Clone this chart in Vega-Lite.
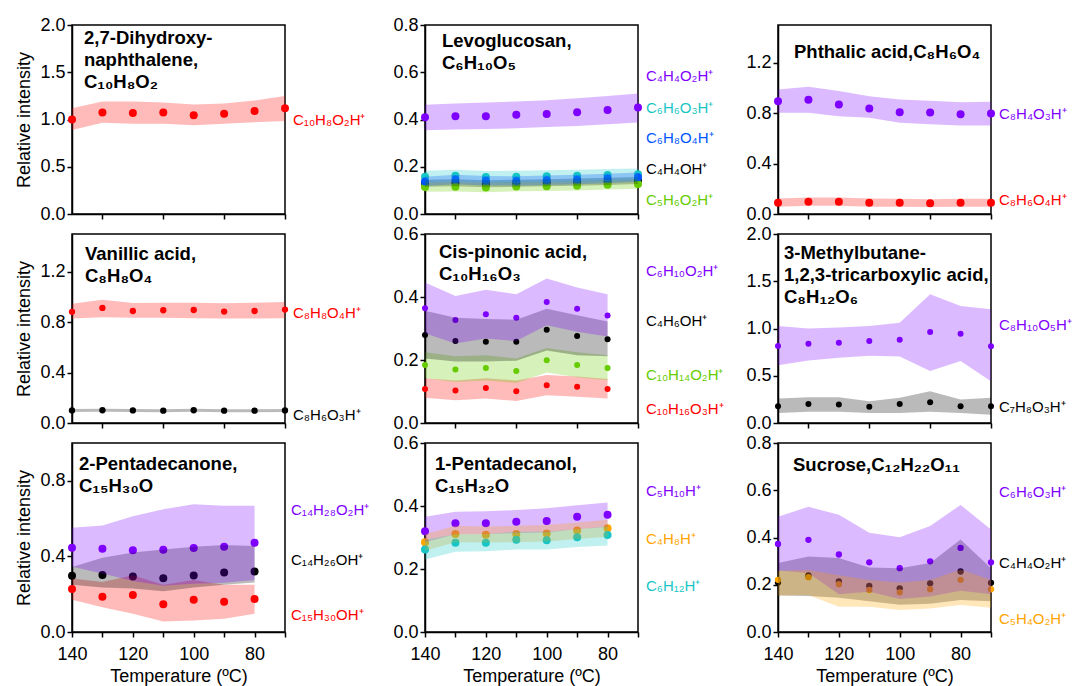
{
"$schema": "https://vega.github.io/schema/vega-lite/v6.json",
"background": "white",
"padding": {"left": 15, "top": 15, "right": 2, "bottom": 0},
"datasets": {
"series": [
{"p":"P1","ion":"C₁₀H₈O₂H⁺","t":140,"v":1.0,"lo":0.89,"hi":1.12},
{"p":"P1","ion":"C₁₀H₈O₂H⁺","t":130,"v":1.075,"lo":0.965,"hi":1.19},
{"p":"P1","ion":"C₁₀H₈O₂H⁺","t":120,"v":1.07,"lo":0.955,"hi":1.19},
{"p":"P1","ion":"C₁₀H₈O₂H⁺","t":110,"v":1.075,"lo":0.955,"hi":1.18},
{"p":"P1","ion":"C₁₀H₈O₂H⁺","t":100,"v":1.045,"lo":0.94,"hi":1.16},
{"p":"P1","ion":"C₁₀H₈O₂H⁺","t":90,"v":1.06,"lo":0.955,"hi":1.17},
{"p":"P1","ion":"C₁₀H₈O₂H⁺","t":80,"v":1.09,"lo":0.97,"hi":1.2},
{"p":"P1","ion":"C₁₀H₈O₂H⁺","t":70,"v":1.12,"lo":0.985,"hi":1.25},

{"p":"P2","ion":"C₄H₄OH⁺","t":140,"v":0.13,"lo":0.115,"hi":0.145},
{"p":"P2","ion":"C₄H₄OH⁺","t":130,"v":0.132,"lo":0.117,"hi":0.147},
{"p":"P2","ion":"C₄H₄OH⁺","t":120,"v":0.128,"lo":0.113,"hi":0.143},
{"p":"P2","ion":"C₄H₄OH⁺","t":110,"v":0.13,"lo":0.115,"hi":0.145},
{"p":"P2","ion":"C₄H₄OH⁺","t":100,"v":0.132,"lo":0.117,"hi":0.147},
{"p":"P2","ion":"C₄H₄OH⁺","t":90,"v":0.135,"lo":0.12,"hi":0.15},
{"p":"P2","ion":"C₄H₄OH⁺","t":80,"v":0.138,"lo":0.123,"hi":0.153},
{"p":"P2","ion":"C₄H₄OH⁺","t":70,"v":0.142,"lo":0.127,"hi":0.157},
{"p":"P2","ion":"C₅H₆O₂H⁺","t":140,"v":0.114,"lo":0.094,"hi":0.134},
{"p":"P2","ion":"C₅H₆O₂H⁺","t":130,"v":0.115,"lo":0.095,"hi":0.135},
{"p":"P2","ion":"C₅H₆O₂H⁺","t":120,"v":0.112,"lo":0.092,"hi":0.132},
{"p":"P2","ion":"C₅H₆O₂H⁺","t":110,"v":0.116,"lo":0.096,"hi":0.136},
{"p":"P2","ion":"C₅H₆O₂H⁺","t":100,"v":0.117,"lo":0.097,"hi":0.137},
{"p":"P2","ion":"C₅H₆O₂H⁺","t":90,"v":0.12,"lo":0.1,"hi":0.14},
{"p":"P2","ion":"C₅H₆O₂H⁺","t":80,"v":0.124,"lo":0.104,"hi":0.144},
{"p":"P2","ion":"C₅H₆O₂H⁺","t":70,"v":0.127,"lo":0.107,"hi":0.147},
{"p":"P2","ion":"C₆H₆O₃H⁺","t":140,"v":0.158,"lo":0.133,"hi":0.183},
{"p":"P2","ion":"C₆H₆O₃H⁺","t":130,"v":0.162,"lo":0.137,"hi":0.187},
{"p":"P2","ion":"C₆H₆O₃H⁺","t":120,"v":0.157,"lo":0.132,"hi":0.182},
{"p":"P2","ion":"C₆H₆O₃H⁺","t":110,"v":0.158,"lo":0.133,"hi":0.183},
{"p":"P2","ion":"C₆H₆O₃H⁺","t":100,"v":0.16,"lo":0.135,"hi":0.185},
{"p":"P2","ion":"C₆H₆O₃H⁺","t":90,"v":0.162,"lo":0.137,"hi":0.187},
{"p":"P2","ion":"C₆H₆O₃H⁺","t":80,"v":0.165,"lo":0.14,"hi":0.19},
{"p":"P2","ion":"C₆H₆O₃H⁺","t":70,"v":0.168,"lo":0.143,"hi":0.193},
{"p":"P2","ion":"C₆H₈O₄H⁺","t":140,"v":0.138,"lo":0.118,"hi":0.158},
{"p":"P2","ion":"C₆H₈O₄H⁺","t":130,"v":0.146,"lo":0.126,"hi":0.166},
{"p":"P2","ion":"C₆H₈O₄H⁺","t":120,"v":0.141,"lo":0.121,"hi":0.161},
{"p":"P2","ion":"C₆H₈O₄H⁺","t":110,"v":0.14,"lo":0.12,"hi":0.16},
{"p":"P2","ion":"C₆H₈O₄H⁺","t":100,"v":0.143,"lo":0.123,"hi":0.163},
{"p":"P2","ion":"C₆H₈O₄H⁺","t":90,"v":0.146,"lo":0.126,"hi":0.166},
{"p":"P2","ion":"C₆H₈O₄H⁺","t":80,"v":0.15,"lo":0.13,"hi":0.17},
{"p":"P2","ion":"C₆H₈O₄H⁺","t":70,"v":0.156,"lo":0.136,"hi":0.176},
{"p":"P2","ion":"C₄H₄O₂H⁺","t":140,"v":0.409,"lo":0.355,"hi":0.462},
{"p":"P2","ion":"C₄H₄O₂H⁺","t":130,"v":0.414,"lo":0.358,"hi":0.468},
{"p":"P2","ion":"C₄H₄O₂H⁺","t":120,"v":0.414,"lo":0.36,"hi":0.472},
{"p":"P2","ion":"C₄H₄O₂H⁺","t":110,"v":0.42,"lo":0.363,"hi":0.476},
{"p":"P2","ion":"C₄H₄O₂H⁺","t":100,"v":0.423,"lo":0.368,"hi":0.482},
{"p":"P2","ion":"C₄H₄O₂H⁺","t":90,"v":0.431,"lo":0.373,"hi":0.49},
{"p":"P2","ion":"C₄H₄O₂H⁺","t":80,"v":0.44,"lo":0.38,"hi":0.5},
{"p":"P2","ion":"C₄H₄O₂H⁺","t":70,"v":0.451,"lo":0.387,"hi":0.51},

{"p":"P3","ion":"C₈H₆O₄H⁺","t":140,"v":0.09,"lo":0.058,"hi":0.124},
{"p":"P3","ion":"C₈H₆O₄H⁺","t":130,"v":0.097,"lo":0.065,"hi":0.13},
{"p":"P3","ion":"C₈H₆O₄H⁺","t":120,"v":0.097,"lo":0.065,"hi":0.13},
{"p":"P3","ion":"C₈H₆O₄H⁺","t":110,"v":0.09,"lo":0.058,"hi":0.124},
{"p":"P3","ion":"C₈H₆O₄H⁺","t":100,"v":0.09,"lo":0.058,"hi":0.122},
{"p":"P3","ion":"C₈H₆O₄H⁺","t":90,"v":0.085,"lo":0.055,"hi":0.118},
{"p":"P3","ion":"C₈H₆O₄H⁺","t":80,"v":0.09,"lo":0.058,"hi":0.122},
{"p":"P3","ion":"C₈H₆O₄H⁺","t":70,"v":0.09,"lo":0.058,"hi":0.122},
{"p":"P3","ion":"C₈H₄O₃H⁺","t":140,"v":0.895,"lo":0.803,"hi":0.988},
{"p":"P3","ion":"C₈H₄O₃H⁺","t":130,"v":0.906,"lo":0.803,"hi":1.009},
{"p":"P3","ion":"C₈H₄O₃H⁺","t":120,"v":0.869,"lo":0.776,"hi":0.977},
{"p":"P3","ion":"C₈H₄O₃H⁺","t":110,"v":0.837,"lo":0.763,"hi":0.935},
{"p":"P3","ion":"C₈H₄O₃H⁺","t":100,"v":0.808,"lo":0.724,"hi":0.908},
{"p":"P3","ion":"C₈H₄O₃H⁺","t":90,"v":0.805,"lo":0.713,"hi":0.898},
{"p":"P3","ion":"C₈H₄O₃H⁺","t":80,"v":0.792,"lo":0.703,"hi":0.887},
{"p":"P3","ion":"C₈H₄O₃H⁺","t":70,"v":0.798,"lo":0.703,"hi":0.89},

{"p":"P4","ion":"C₈H₆O₃H⁺","t":140,"v":0.1,"lo":0.088,"hi":0.112},
{"p":"P4","ion":"C₈H₆O₃H⁺","t":130,"v":0.101,"lo":0.089,"hi":0.113},
{"p":"P4","ion":"C₈H₆O₃H⁺","t":120,"v":0.1,"lo":0.088,"hi":0.112},
{"p":"P4","ion":"C₈H₆O₃H⁺","t":110,"v":0.098,"lo":0.086,"hi":0.11},
{"p":"P4","ion":"C₈H₆O₃H⁺","t":100,"v":0.101,"lo":0.089,"hi":0.113},
{"p":"P4","ion":"C₈H₆O₃H⁺","t":90,"v":0.098,"lo":0.086,"hi":0.11},
{"p":"P4","ion":"C₈H₆O₃H⁺","t":80,"v":0.098,"lo":0.086,"hi":0.11},
{"p":"P4","ion":"C₈H₆O₃H⁺","t":70,"v":0.1,"lo":0.088,"hi":0.112},
{"p":"P4","ion":"C₈H₈O₄H⁺","t":140,"v":0.882,"lo":0.829,"hi":0.947},
{"p":"P4","ion":"C₈H₈O₄H⁺","t":130,"v":0.913,"lo":0.84,"hi":0.979},
{"p":"P4","ion":"C₈H₈O₄H⁺","t":120,"v":0.889,"lo":0.835,"hi":0.953},
{"p":"P4","ion":"C₈H₈O₄H⁺","t":110,"v":0.895,"lo":0.835,"hi":0.955},
{"p":"P4","ion":"C₈H₈O₄H⁺","t":100,"v":0.897,"lo":0.832,"hi":0.955},
{"p":"P4","ion":"C₈H₈O₄H⁺","t":90,"v":0.884,"lo":0.83,"hi":0.95},
{"p":"P4","ion":"C₈H₈O₄H⁺","t":80,"v":0.889,"lo":0.83,"hi":0.955},
{"p":"P4","ion":"C₈H₈O₄H⁺","t":70,"v":0.9,"lo":0.832,"hi":0.96},

{"p":"P5","ion":"C₁₀H₁₆O₃H⁺","t":140,"v":0.108,"lo":0.08,"hi":0.142},
{"p":"P5","ion":"C₁₀H₁₆O₃H⁺","t":130,"v":0.103,"lo":0.072,"hi":0.135},
{"p":"P5","ion":"C₁₀H₁₆O₃H⁺","t":120,"v":0.111,"lo":0.078,"hi":0.142},
{"p":"P5","ion":"C₁₀H₁₆O₃H⁺","t":110,"v":0.101,"lo":0.07,"hi":0.135},
{"p":"P5","ion":"C₁₀H₁₆O₃H⁺","t":100,"v":0.12,"lo":0.088,"hi":0.152},
{"p":"P5","ion":"C₁₀H₁₆O₃H⁺","t":90,"v":0.115,"lo":0.083,"hi":0.148},
{"p":"P5","ion":"C₁₀H₁₆O₃H⁺","t":80,"v":0.108,"lo":0.078,"hi":0.14},
{"p":"P5","ion":"C₁₀H₁₄O₂H⁺","t":140,"v":0.184,"lo":0.143,"hi":0.225},
{"p":"P5","ion":"C₁₀H₁₄O₂H⁺","t":130,"v":0.17,"lo":0.13,"hi":0.212},
{"p":"P5","ion":"C₁₀H₁₄O₂H⁺","t":120,"v":0.175,"lo":0.135,"hi":0.215},
{"p":"P5","ion":"C₁₀H₁₄O₂H⁺","t":110,"v":0.165,"lo":0.127,"hi":0.205},
{"p":"P5","ion":"C₁₀H₁₄O₂H⁺","t":100,"v":0.199,"lo":0.16,"hi":0.238},
{"p":"P5","ion":"C₁₀H₁₄O₂H⁺","t":90,"v":0.184,"lo":0.145,"hi":0.225},
{"p":"P5","ion":"C₁₀H₁₄O₂H⁺","t":80,"v":0.175,"lo":0.136,"hi":0.215},
{"p":"P5","ion":"C₄H₆OH⁺","t":140,"v":0.279,"lo":0.205,"hi":0.356},
{"p":"P5","ion":"C₄H₆OH⁺","t":130,"v":0.26,"lo":0.195,"hi":0.334},
{"p":"P5","ion":"C₄H₆OH⁺","t":120,"v":0.258,"lo":0.195,"hi":0.33},
{"p":"P5","ion":"C₄H₆OH⁺","t":110,"v":0.258,"lo":0.198,"hi":0.328},
{"p":"P5","ion":"C₄H₆OH⁺","t":100,"v":0.296,"lo":0.23,"hi":0.363},
{"p":"P5","ion":"C₄H₆OH⁺","t":90,"v":0.276,"lo":0.215,"hi":0.342},
{"p":"P5","ion":"C₄H₆OH⁺","t":80,"v":0.266,"lo":0.212,"hi":0.322},
{"p":"P5","ion":"C₆H₁₀O₂H⁺","t":140,"v":0.364,"lo":0.285,"hi":0.446},
{"p":"P5","ion":"C₆H₁₀O₂H⁺","t":130,"v":0.327,"lo":0.252,"hi":0.403},
{"p":"P5","ion":"C₆H₁₀O₂H⁺","t":120,"v":0.345,"lo":0.268,"hi":0.423},
{"p":"P5","ion":"C₆H₁₀O₂H⁺","t":110,"v":0.334,"lo":0.26,"hi":0.409},
{"p":"P5","ion":"C₆H₁₀O₂H⁺","t":100,"v":0.384,"lo":0.31,"hi":0.459},
{"p":"P5","ion":"C₆H₁₀O₂H⁺","t":90,"v":0.363,"lo":0.29,"hi":0.43},
{"p":"P5","ion":"C₆H₁₀O₂H⁺","t":80,"v":0.341,"lo":0.275,"hi":0.409},

{"p":"P6","ion":"C₇H₈O₃H⁺","t":140,"v":0.177,"lo":0.106,"hi":0.259},
{"p":"P6","ion":"C₇H₈O₃H⁺","t":130,"v":0.202,"lo":0.12,"hi":0.273},
{"p":"P6","ion":"C₇H₈O₃H⁺","t":120,"v":0.195,"lo":0.12,"hi":0.273},
{"p":"P6","ion":"C₇H₈O₃H⁺","t":110,"v":0.173,"lo":0.106,"hi":0.23},
{"p":"P6","ion":"C₇H₈O₃H⁺","t":100,"v":0.202,"lo":0.106,"hi":0.266},
{"p":"P6","ion":"C₇H₈O₃H⁺","t":90,"v":0.22,"lo":0.12,"hi":0.336},
{"p":"P6","ion":"C₇H₈O₃H⁺","t":80,"v":0.177,"lo":0.106,"hi":0.248},
{"p":"P6","ion":"C₇H₈O₃H⁺","t":70,"v":0.177,"lo":0.088,"hi":0.266},
{"p":"P6","ion":"C₈H₁₀O₅H⁺","t":140,"v":0.814,"lo":0.612,"hi":1.027},
{"p":"P6","ion":"C₈H₁₀O₅H⁺","t":130,"v":0.839,"lo":0.662,"hi":1.0},
{"p":"P6","ion":"C₈H₁₀O₅H⁺","t":120,"v":0.849,"lo":0.69,"hi":1.01},
{"p":"P6","ion":"C₈H₁₀O₅H⁺","t":110,"v":0.867,"lo":0.712,"hi":1.027},
{"p":"P6","ion":"C₈H₁₀O₅H⁺","t":100,"v":0.881,"lo":0.705,"hi":1.062},
{"p":"P6","ion":"C₈H₁₀O₅H⁺","t":90,"v":0.963,"lo":0.549,"hi":1.363},
{"p":"P6","ion":"C₈H₁₀O₅H⁺","t":80,"v":0.945,"lo":0.655,"hi":1.239},
{"p":"P6","ion":"C₈H₁₀O₅H⁺","t":70,"v":0.811,"lo":0.443,"hi":1.204},

{"p":"P7","ion":"C₁₅H₃₀OH⁺","t":140,"v":0.227,"lo":0.17,"hi":0.283},
{"p":"P7","ion":"C₁₅H₃₀OH⁺","t":130,"v":0.187,"lo":0.131,"hi":0.265},
{"p":"P7","ion":"C₁₅H₃₀OH⁺","t":120,"v":0.196,"lo":0.096,"hi":0.3},
{"p":"P7","ion":"C₁₅H₃₀OH⁺","t":110,"v":0.147,"lo":0.056,"hi":0.25},
{"p":"P7","ion":"C₁₅H₃₀OH⁺","t":100,"v":0.17,"lo":0.061,"hi":0.275},
{"p":"P7","ion":"C₁₅H₃₀OH⁺","t":90,"v":0.16,"lo":0.07,"hi":0.25},
{"p":"P7","ion":"C₁₅H₃₀OH⁺","t":80,"v":0.175,"lo":0.096,"hi":0.25},
{"p":"P7","ion":"C₁₄H₂₆OH⁺","t":140,"v":0.297,"lo":0.25,"hi":0.344},
{"p":"P7","ion":"C₁₄H₂₆OH⁺","t":130,"v":0.302,"lo":0.235,"hi":0.393},
{"p":"P7","ion":"C₁₄H₂₆OH⁺","t":120,"v":0.294,"lo":0.23,"hi":0.42},
{"p":"P7","ion":"C₁₄H₂₆OH⁺","t":110,"v":0.285,"lo":0.215,"hi":0.437},
{"p":"P7","ion":"C₁₄H₂₆OH⁺","t":100,"v":0.299,"lo":0.235,"hi":0.451},
{"p":"P7","ion":"C₁₄H₂₆OH⁺","t":90,"v":0.315,"lo":0.25,"hi":0.46},
{"p":"P7","ion":"C₁₄H₂₆OH⁺","t":80,"v":0.32,"lo":0.262,"hi":0.455},
{"p":"P7","ion":"C₁₄H₂₈O₂H⁺","t":140,"v":0.446,"lo":0.345,"hi":0.551},
{"p":"P7","ion":"C₁₄H₂₈O₂H⁺","t":130,"v":0.44,"lo":0.31,"hi":0.563},
{"p":"P7","ion":"C₁₄H₂₈O₂H⁺","t":120,"v":0.432,"lo":0.27,"hi":0.612},
{"p":"P7","ion":"C₁₄H₂₈O₂H⁺","t":110,"v":0.435,"lo":0.245,"hi":0.65},
{"p":"P7","ion":"C₁₄H₂₈O₂H⁺","t":100,"v":0.444,"lo":0.255,"hi":0.676},
{"p":"P7","ion":"C₁₄H₂₈O₂H⁺","t":90,"v":0.451,"lo":0.26,"hi":0.668},
{"p":"P7","ion":"C₁₄H₂₈O₂H⁺","t":80,"v":0.472,"lo":0.275,"hi":0.668},

{"p":"P8","ion":"C₅H₁₀H⁺","t":140,"v":0.32,"lo":0.285,"hi":0.366},
{"p":"P8","ion":"C₅H₁₀H⁺","t":130,"v":0.345,"lo":0.31,"hi":0.382},
{"p":"P8","ion":"C₅H₁₀H⁺","t":120,"v":0.345,"lo":0.31,"hi":0.383},
{"p":"P8","ion":"C₅H₁₀H⁺","t":110,"v":0.35,"lo":0.314,"hi":0.387},
{"p":"P8","ion":"C₅H₁₀H⁺","t":100,"v":0.352,"lo":0.316,"hi":0.393},
{"p":"P8","ion":"C₅H₁₀H⁺","t":90,"v":0.366,"lo":0.326,"hi":0.402},
{"p":"P8","ion":"C₅H₁₀H⁺","t":80,"v":0.372,"lo":0.333,"hi":0.411},
{"p":"P8","ion":"C₄H₈H⁺","t":140,"v":0.285,"lo":0.258,"hi":0.31},
{"p":"P8","ion":"C₄H₈H⁺","t":130,"v":0.311,"lo":0.285,"hi":0.337},
{"p":"P8","ion":"C₄H₈H⁺","t":120,"v":0.309,"lo":0.284,"hi":0.335},
{"p":"P8","ion":"C₄H₈H⁺","t":110,"v":0.311,"lo":0.285,"hi":0.337},
{"p":"P8","ion":"C₄H₈H⁺","t":100,"v":0.313,"lo":0.287,"hi":0.34},
{"p":"P8","ion":"C₄H₈H⁺","t":90,"v":0.322,"lo":0.295,"hi":0.348},
{"p":"P8","ion":"C₄H₈H⁺","t":80,"v":0.329,"lo":0.302,"hi":0.356},
{"p":"P8","ion":"C₆H₁₂H⁺","t":140,"v":0.262,"lo":0.23,"hi":0.292},
{"p":"P8","ion":"C₆H₁₂H⁺","t":130,"v":0.283,"lo":0.255,"hi":0.31},
{"p":"P8","ion":"C₆H₁₂H⁺","t":120,"v":0.283,"lo":0.256,"hi":0.31},
{"p":"P8","ion":"C₆H₁₂H⁺","t":110,"v":0.293,"lo":0.262,"hi":0.318},
{"p":"P8","ion":"C₆H₁₂H⁺","t":100,"v":0.291,"lo":0.262,"hi":0.318},
{"p":"P8","ion":"C₆H₁₂H⁺","t":90,"v":0.301,"lo":0.27,"hi":0.326},
{"p":"P8","ion":"C₆H₁₂H⁺","t":80,"v":0.308,"lo":0.275,"hi":0.335},

{"p":"P9","ion":"C₄H₄O₂H⁺","t":140,"v":0.209,"lo":0.154,"hi":0.292},
{"p":"P9","ion":"C₄H₄O₂H⁺","t":130,"v":0.239,"lo":0.152,"hi":0.32},
{"p":"P9","ion":"C₄H₄O₂H⁺","t":120,"v":0.214,"lo":0.145,"hi":0.313},
{"p":"P9","ion":"C₄H₄O₂H⁺","t":110,"v":0.195,"lo":0.13,"hi":0.273},
{"p":"P9","ion":"C₄H₄O₂H⁺","t":100,"v":0.185,"lo":0.115,"hi":0.27},
{"p":"P9","ion":"C₄H₄O₂H⁺","t":90,"v":0.206,"lo":0.12,"hi":0.292},
{"p":"P9","ion":"C₄H₄O₂H⁺","t":80,"v":0.256,"lo":0.135,"hi":0.392},
{"p":"P9","ion":"C₄H₄O₂H⁺","t":70,"v":0.208,"lo":0.13,"hi":0.27},
{"p":"P9","ion":"C₆H₆O₃H⁺","t":140,"v":0.373,"lo":0.26,"hi":0.488},
{"p":"P9","ion":"C₆H₆O₃H⁺","t":130,"v":0.39,"lo":0.25,"hi":0.53},
{"p":"P9","ion":"C₆H₆O₃H⁺","t":120,"v":0.328,"lo":0.16,"hi":0.496},
{"p":"P9","ion":"C₆H₆O₃H⁺","t":110,"v":0.295,"lo":0.17,"hi":0.42},
{"p":"P9","ion":"C₆H₆O₃H⁺","t":100,"v":0.27,"lo":0.14,"hi":0.401},
{"p":"P9","ion":"C₆H₆O₃H⁺","t":90,"v":0.299,"lo":0.15,"hi":0.449},
{"p":"P9","ion":"C₆H₆O₃H⁺","t":80,"v":0.356,"lo":0.175,"hi":0.538},
{"p":"P9","ion":"C₆H₆O₃H⁺","t":70,"v":0.295,"lo":0.16,"hi":0.434},
{"p":"P9","ion":"C₅H₄O₂H⁺","t":140,"v":0.221,"lo":0.154,"hi":0.259},
{"p":"P9","ion":"C₅H₄O₂H⁺","t":130,"v":0.232,"lo":0.157,"hi":0.262},
{"p":"P9","ion":"C₅H₄O₂H⁺","t":120,"v":0.202,"lo":0.107,"hi":0.24},
{"p":"P9","ion":"C₅H₄O₂H⁺","t":110,"v":0.178,"lo":0.107,"hi":0.22},
{"p":"P9","ion":"C₅H₄O₂H⁺","t":100,"v":0.168,"lo":0.093,"hi":0.21},
{"p":"P9","ion":"C₅H₄O₂H⁺","t":90,"v":0.181,"lo":0.1,"hi":0.22},
{"p":"P9","ion":"C₅H₄O₂H⁺","t":80,"v":0.221,"lo":0.114,"hi":0.265},
{"p":"P9","ion":"C₅H₄O₂H⁺","t":70,"v":0.181,"lo":0.103,"hi":0.22}
],
"labels": [
{"p":"P1","ion":"C₁₀H₈O₂H⁺","ly":1.0},
{"p":"P2","ion":"C₄H₄O₂H⁺","ly":0.584},
{"p":"P2","ion":"C₆H₆O₃H⁺","ly":0.447},
{"p":"P2","ion":"C₆H₈O₄H⁺","ly":0.323},
{"p":"P2","ion":"C₄H₄OH⁺","ly":0.192},
{"p":"P2","ion":"C₅H₆O₂H⁺","ly":0.06},
{"p":"P3","ion":"C₈H₄O₃H⁺","ly":0.79},
{"p":"P3","ion":"C₈H₆O₄H⁺","ly":0.11},
{"p":"P4","ion":"C₈H₈O₄H⁺","ly":0.874},
{"p":"P4","ion":"C₈H₆O₃H⁺","ly":0.066},
{"p":"P5","ion":"C₆H₁₀O₂H⁺","ly":0.483},
{"p":"P5","ion":"C₄H₆OH⁺","ly":0.324},
{"p":"P5","ion":"C₁₀H₁₄O₂H⁺","ly":0.152},
{"p":"P5","ion":"C₁₀H₁₆O₃H⁺","ly":0.043},
{"p":"P6","ion":"C₈H₁₀O₅H⁺","ly":1.034},
{"p":"P6","ion":"C₇H₈O₃H⁺","ly":0.174},
{"p":"P7","ion":"C₁₄H₂₈O₂H⁺","ly":0.643},
{"p":"P7","ion":"C₁₄H₂₆OH⁺","ly":0.379},
{"p":"P7","ion":"C₁₅H₃₀OH⁺","ly":0.088},
{"p":"P8","ion":"C₅H₁₀H⁺","ly":0.448},
{"p":"P8","ion":"C₄H₈H⁺","ly":0.296},
{"p":"P8","ion":"C₆H₁₂H⁺","ly":0.147},
{"p":"P9","ion":"C₆H₆O₃H⁺","ly":0.591},
{"p":"P9","ion":"C₄H₄O₂H⁺","ly":0.292},
{"p":"P9","ion":"C₅H₄O₂H⁺","ly":0.057}
]
},
"columns": 3,
"spacing": {"row": 20, "column": 140},
"bounds": "flush",
"resolve": {"scale": {"color": "independent"}},
"concat": [
{
"width": 213, "height": 189,
"encoding": {"color": {"field": "ion", "type": "nominal", "legend": null, "scale": {"domain": ["C₁₀H₈O₂H⁺"], "range": ["#ff0000"]}}},
"layer": [
{"data": {"name": "series"}, "transform": [{"filter": "datum.p=='P1'"}], "mark": {"type": "circle", "size": 64, "opacity": 1},
 "encoding": {
  "x": {"field": "t", "type": "quantitative", "title": null, "scale": {"domain": [70, 140], "reverse": true, "nice": false, "zero": false}, "axis": {"values": [140,130,120,110,100,90,80,70], "labels": false}},
  "y": {"field": "v", "type": "quantitative", "title": "Relative intensity", "scale": {"domain": [0, 2], "nice": false}, "axis": {"values": [0,0.5,1,1.5,2], "format": ".1f"}}}},
{"data": {"name": "series"}, "transform": [{"filter": "datum.p=='P1'"}], "mark": {"type": "area", "opacity": 0.27},
 "encoding": {"x": {"field": "t", "type": "quantitative", "title": null}, "y": {"field": "lo", "type": "quantitative", "title": "Relative intensity"}, "y2": {"field": "hi"}}},
{"data": {"name": "labels"}, "transform": [{"filter": "datum.p=='P1'"}], "mark": {"type": "text", "align": "left", "baseline": "middle", "dx": 8, "fontSize": 15},
 "encoding": {"x": {"datum": 70, "type": "quantitative", "title": null}, "y": {"field": "ly", "type": "quantitative", "title": "Relative intensity"}, "text": {"field": "ion"}}},
{"data": {"values": [{"name": "2,7-Dihydroxy-\nnaphthalene,\nC₁₀H₈O₂"}]}, "mark": {"type": "text", "align": "left", "baseline": "top", "dx": 12, "dy": 4, "fontSize": 18.5, "fontWeight": "bold", "lineBreak": "\n", "lineHeight": 22},
 "encoding": {"x": {"datum": 140, "type": "quantitative", "title": null}, "y": {"datum": 2, "type": "quantitative", "title": "Relative intensity"}, "text": {"field": "name"}, "color": {"value": "black"}}}
]
},
{
"width": 213, "height": 189,
"encoding": {"color": {"field": "ion", "type": "nominal", "legend": null, "scale": {"domain": ["C₄H₄O₂H⁺","C₆H₆O₃H⁺","C₆H₈O₄H⁺","C₄H₄OH⁺","C₅H₆O₂H⁺"], "range": ["#7f00ff","#17c6c6","#0055ff","#000000","#66cc00"]}}},
"layer": [
{"data": {"name": "series"}, "transform": [{"filter": "datum.p=='P2'"}], "mark": {"type": "circle", "size": 64, "opacity": 1},
 "encoding": {
  "x": {"field": "t", "type": "quantitative", "title": null, "scale": {"domain": [70, 140], "reverse": true, "nice": false, "zero": false}, "axis": {"values": [140,130,120,110,100,90,80,70], "labels": false}},
  "y": {"field": "v", "type": "quantitative", "title": null, "scale": {"domain": [0, 0.8], "nice": false}, "axis": {"values": [0,0.2,0.4,0.6,0.8], "format": ".1f"}}}},
{"data": {"name": "series"}, "transform": [{"filter": "datum.p=='P2'"}], "mark": {"type": "area", "opacity": 0.27},
 "encoding": {"x": {"field": "t", "type": "quantitative", "title": null}, "y": {"field": "lo", "type": "quantitative", "title": null}, "y2": {"field": "hi"}}},
{"data": {"name": "labels"}, "transform": [{"filter": "datum.p=='P2'"}], "mark": {"type": "text", "align": "left", "baseline": "middle", "dx": 8, "fontSize": 15},
 "encoding": {"x": {"datum": 70, "type": "quantitative", "title": null}, "y": {"field": "ly", "type": "quantitative", "title": null}, "text": {"field": "ion"}}},
{"data": {"values": [{"name": "Levoglucosan,\nC₆H₁₀O₅"}]}, "mark": {"type": "text", "align": "left", "baseline": "top", "dx": 17, "dy": 7, "fontSize": 18.5, "fontWeight": "bold", "lineBreak": "\n", "lineHeight": 22},
 "encoding": {"x": {"datum": 140, "type": "quantitative", "title": null}, "y": {"datum": 0.8, "type": "quantitative", "title": null}, "text": {"field": "name"}, "color": {"value": "black"}}}
]
},
{
"width": 213, "height": 189,
"encoding": {"color": {"field": "ion", "type": "nominal", "legend": null, "scale": {"domain": ["C₈H₄O₃H⁺","C₈H₆O₄H⁺"], "range": ["#7f00ff","#ff0000"]}}},
"layer": [
{"data": {"name": "series"}, "transform": [{"filter": "datum.p=='P3'"}], "mark": {"type": "circle", "size": 64, "opacity": 1},
 "encoding": {
  "x": {"field": "t", "type": "quantitative", "title": null, "scale": {"domain": [70, 140], "reverse": true, "nice": false, "zero": false}, "axis": {"values": [140,130,120,110,100,90,80,70], "labels": false}},
  "y": {"field": "v", "type": "quantitative", "title": null, "scale": {"domain": [0, 1.5], "nice": false}, "axis": {"values": [0,0.2,0.4,0.6,0.8,1.0,1.2,1.4], "format": ".1f", "labelExpr": "round(datum.value*10) % 4 == 0 ? datum.label : ''"}}}},
{"data": {"name": "series"}, "transform": [{"filter": "datum.p=='P3'"}], "mark": {"type": "area", "opacity": 0.27},
 "encoding": {"x": {"field": "t", "type": "quantitative", "title": null}, "y": {"field": "lo", "type": "quantitative", "title": null}, "y2": {"field": "hi"}}},
{"data": {"name": "labels"}, "transform": [{"filter": "datum.p=='P3'"}], "mark": {"type": "text", "align": "left", "baseline": "middle", "dx": 8, "fontSize": 15},
 "encoding": {"x": {"datum": 70, "type": "quantitative", "title": null}, "y": {"field": "ly", "type": "quantitative", "title": null}, "text": {"field": "ion"}}},
{"data": {"values": [{"name": "Phthalic acid,C₈H₆O₄"}]}, "mark": {"type": "text", "align": "left", "baseline": "top", "dx": 16, "dy": 18, "fontSize": 18.5, "fontWeight": "bold", "lineBreak": "\n", "lineHeight": 22},
 "encoding": {"x": {"datum": 140, "type": "quantitative", "title": null}, "y": {"datum": 1.5, "type": "quantitative", "title": null}, "text": {"field": "name"}, "color": {"value": "black"}}}
]
},
{
"width": 213, "height": 189,
"encoding": {"color": {"field": "ion", "type": "nominal", "legend": null, "scale": {"domain": ["C₈H₈O₄H⁺","C₈H₆O₃H⁺"], "range": ["#ff0000","#000000"]}}},
"layer": [
{"data": {"name": "series"}, "transform": [{"filter": "datum.p=='P4'"}], "mark": {"type": "circle", "size": 40, "opacity": 1},
 "encoding": {
  "x": {"field": "t", "type": "quantitative", "title": null, "scale": {"domain": [70, 140], "reverse": true, "nice": false, "zero": false}, "axis": {"values": [140,130,120,110,100,90,80,70], "labels": false}},
  "y": {"field": "v", "type": "quantitative", "title": "Relative intensity", "scale": {"domain": [0, 1.5], "nice": false}, "axis": {"values": [0,0.2,0.4,0.6,0.8,1.0,1.2,1.4], "format": ".1f", "labelExpr": "round(datum.value*10) % 4 == 0 ? datum.label : ''"}}}},
{"data": {"name": "series"}, "transform": [{"filter": "datum.p=='P4'"}], "mark": {"type": "area", "opacity": 0.27},
 "encoding": {"x": {"field": "t", "type": "quantitative", "title": null}, "y": {"field": "lo", "type": "quantitative", "title": "Relative intensity"}, "y2": {"field": "hi"}}},
{"data": {"name": "labels"}, "transform": [{"filter": "datum.p=='P4'"}], "mark": {"type": "text", "align": "left", "baseline": "middle", "dx": 8, "fontSize": 15},
 "encoding": {"x": {"datum": 70, "type": "quantitative", "title": null}, "y": {"field": "ly", "type": "quantitative", "title": "Relative intensity"}, "text": {"field": "ion"}}},
{"data": {"values": [{"name": "Vanillic acid,\nC₈H₈O₄"}]}, "mark": {"type": "text", "align": "left", "baseline": "top", "dx": 13, "dy": 11, "fontSize": 18.5, "fontWeight": "bold", "lineBreak": "\n", "lineHeight": 22},
 "encoding": {"x": {"datum": 140, "type": "quantitative", "title": null}, "y": {"datum": 1.5, "type": "quantitative", "title": "Relative intensity"}, "text": {"field": "name"}, "color": {"value": "black"}}}
]
},
{
"width": 213, "height": 189,
"encoding": {"color": {"field": "ion", "type": "nominal", "legend": null, "scale": {"domain": ["C₆H₁₀O₂H⁺","C₄H₆OH⁺","C₁₀H₁₄O₂H⁺","C₁₀H₁₆O₃H⁺"], "range": ["#7f00ff","#000000","#66cc00","#ff0000"]}}},
"layer": [
{"data": {"name": "series"}, "transform": [{"filter": "datum.p=='P5'"}], "mark": {"type": "circle", "size": 36, "opacity": 1},
 "encoding": {
  "x": {"field": "t", "type": "quantitative", "title": null, "scale": {"domain": [70, 140], "reverse": true, "nice": false, "zero": false}, "axis": {"values": [140,130,120,110,100,90,80,70], "labels": false}},
  "y": {"field": "v", "type": "quantitative", "title": null, "scale": {"domain": [0, 0.6], "nice": false}, "axis": {"values": [0,0.1,0.2,0.3,0.4,0.5,0.6], "format": ".1f"}}}},
{"data": {"name": "series"}, "transform": [{"filter": "datum.p=='P5'"}], "mark": {"type": "area", "opacity": 0.27},
 "encoding": {"x": {"field": "t", "type": "quantitative", "title": null}, "y": {"field": "lo", "type": "quantitative", "title": null}, "y2": {"field": "hi"}}},
{"data": {"name": "labels"}, "transform": [{"filter": "datum.p=='P5'"}], "mark": {"type": "text", "align": "left", "baseline": "middle", "dx": 8, "fontSize": 15},
 "encoding": {"x": {"datum": 70, "type": "quantitative", "title": null}, "y": {"field": "ly", "type": "quantitative", "title": null}, "text": {"field": "ion"}}},
{"data": {"values": [{"name": "Cis-pinonic acid,\nC₁₀H₁₆O₃"}]}, "mark": {"type": "text", "align": "left", "baseline": "top", "dx": 14, "dy": 9, "fontSize": 18.5, "fontWeight": "bold", "lineBreak": "\n", "lineHeight": 22},
 "encoding": {"x": {"datum": 140, "type": "quantitative", "title": null}, "y": {"datum": 0.6, "type": "quantitative", "title": null}, "text": {"field": "name"}, "color": {"value": "black"}}}
]
},
{
"width": 213, "height": 189,
"encoding": {"color": {"field": "ion", "type": "nominal", "legend": null, "scale": {"domain": ["C₈H₁₀O₅H⁺","C₇H₈O₃H⁺"], "range": ["#7f00ff","#000000"]}}},
"layer": [
{"data": {"name": "series"}, "transform": [{"filter": "datum.p=='P6'"}], "mark": {"type": "circle", "size": 36, "opacity": 1},
 "encoding": {
  "x": {"field": "t", "type": "quantitative", "title": null, "scale": {"domain": [70, 140], "reverse": true, "nice": false, "zero": false}, "axis": {"values": [140,130,120,110,100,90,80,70], "labels": false}},
  "y": {"field": "v", "type": "quantitative", "title": null, "scale": {"domain": [0, 2], "nice": false}, "axis": {"values": [0,0.5,1,1.5,2], "format": ".1f"}}}},
{"data": {"name": "series"}, "transform": [{"filter": "datum.p=='P6'"}], "mark": {"type": "area", "opacity": 0.27},
 "encoding": {"x": {"field": "t", "type": "quantitative", "title": null}, "y": {"field": "lo", "type": "quantitative", "title": null}, "y2": {"field": "hi"}}},
{"data": {"name": "labels"}, "transform": [{"filter": "datum.p=='P6'"}], "mark": {"type": "text", "align": "left", "baseline": "middle", "dx": 8, "fontSize": 15},
 "encoding": {"x": {"datum": 70, "type": "quantitative", "title": null}, "y": {"field": "ly", "type": "quantitative", "title": null}, "text": {"field": "ion"}}},
{"data": {"values": [{"name": "3-Methylbutane-\n1,2,3-tricarboxylic acid,\nC₈H₁₂O₆"}]}, "mark": {"type": "text", "align": "left", "baseline": "top", "dx": 6, "dy": 10, "fontSize": 18.5, "fontWeight": "bold", "lineBreak": "\n", "lineHeight": 22},
 "encoding": {"x": {"datum": 140, "type": "quantitative", "title": null}, "y": {"datum": 2, "type": "quantitative", "title": null}, "text": {"field": "name"}, "color": {"value": "black"}}}
]
},
{
"width": 213, "height": 189,
"resolve": {"axis": {"x": "independent"}},
"encoding": {"color": {"field": "ion", "type": "nominal", "legend": null, "scale": {"domain": ["C₁₄H₂₈O₂H⁺","C₁₄H₂₆OH⁺","C₁₅H₃₀OH⁺"], "range": ["#7f00ff","#000000","#ff0000"]}}},
"layer": [
{"data": {"name": "series"}, "transform": [{"filter": "datum.p=='P7'"}], "mark": {"type": "circle", "size": 64, "opacity": 1},
 "encoding": {
  "x": {"field": "t", "type": "quantitative", "title": "Temperature (ºC)", "scale": {"domain": [70, 140], "reverse": true, "nice": false, "zero": false}, "axis": {"orient": "bottom", "values": [140,120,100,80], "labelPadding": 8, "titlePadding": 4}},
  "y": {"field": "v", "type": "quantitative", "title": "Relative intensity", "scale": {"domain": [0, 1], "nice": false}, "axis": {"values": [0,0.2,0.4,0.6,0.8,1.0], "format": ".1f"}}}},
{"data": {"name": "series"}, "transform": [{"filter": "datum.p=='P7'"}], "mark": {"type": "area", "opacity": 0.27},
 "encoding": {"x": {"field": "t", "type": "quantitative", "title": null, "axis": {"orient": "bottom", "values": [130,110,90,70], "labels": false, "domain": false}}, "y": {"field": "lo", "type": "quantitative", "title": "Relative intensity"}, "y2": {"field": "hi"}}},
{"data": {"name": "labels"}, "transform": [{"filter": "datum.p=='P7'"}], "mark": {"type": "text", "align": "left", "baseline": "middle", "dx": 6, "fontSize": 15},
 "encoding": {"x": {"datum": 70, "type": "quantitative", "axis": null}, "y": {"field": "ly", "type": "quantitative", "title": "Relative intensity"}, "text": {"field": "ion"}}},
{"data": {"values": [{"name": "2-Pentadecanone,\nC₁₅H₃₀O"}]}, "mark": {"type": "text", "align": "left", "baseline": "top", "dx": 7, "dy": 12, "fontSize": 18.5, "fontWeight": "bold", "lineBreak": "\n", "lineHeight": 22},
 "encoding": {"x": {"datum": 140, "type": "quantitative", "axis": null}, "y": {"datum": 1, "type": "quantitative", "title": "Relative intensity"}, "text": {"field": "name"}, "color": {"value": "black"}}}
]
},
{
"width": 213, "height": 189,
"resolve": {"axis": {"x": "independent"}},
"encoding": {"color": {"field": "ion", "type": "nominal", "legend": null, "scale": {"domain": ["C₅H₁₀H⁺","C₄H₈H⁺","C₆H₁₂H⁺"], "range": ["#7f00ff","#ffa500","#17c6c6"]}}},
"layer": [
{"data": {"name": "series"}, "transform": [{"filter": "datum.p=='P8'"}], "mark": {"type": "circle", "size": 64, "opacity": 1},
 "encoding": {
  "x": {"field": "t", "type": "quantitative", "title": "Temperature (ºC)", "scale": {"domain": [70, 140], "reverse": true, "nice": false, "zero": false}, "axis": {"orient": "bottom", "values": [140,120,100,80], "labelPadding": 8, "titlePadding": 4}},
  "y": {"field": "v", "type": "quantitative", "title": null, "scale": {"domain": [0, 0.6], "nice": false}, "axis": {"values": [0,0.1,0.2,0.3,0.4,0.5,0.6], "format": ".1f"}}}},
{"data": {"name": "series"}, "transform": [{"filter": "datum.p=='P8'"}], "mark": {"type": "area", "opacity": 0.27},
 "encoding": {"x": {"field": "t", "type": "quantitative", "title": null, "axis": {"orient": "bottom", "values": [130,110,90,70], "labels": false, "domain": false}}, "y": {"field": "lo", "type": "quantitative", "title": null}, "y2": {"field": "hi"}}},
{"data": {"name": "labels"}, "transform": [{"filter": "datum.p=='P8'"}], "mark": {"type": "text", "align": "left", "baseline": "middle", "dx": 8, "fontSize": 15},
 "encoding": {"x": {"datum": 70, "type": "quantitative", "axis": null}, "y": {"field": "ly", "type": "quantitative", "title": null}, "text": {"field": "ion"}}},
{"data": {"values": [{"name": "1-Pentadecanol,\nC₁₅H₃₂O"}]}, "mark": {"type": "text", "align": "left", "baseline": "top", "dx": 10, "dy": 12, "fontSize": 18.5, "fontWeight": "bold", "lineBreak": "\n", "lineHeight": 22},
 "encoding": {"x": {"datum": 140, "type": "quantitative", "axis": null}, "y": {"datum": 0.6, "type": "quantitative", "title": null}, "text": {"field": "name"}, "color": {"value": "black"}}}
]
},
{
"width": 213, "height": 189,
"resolve": {"axis": {"x": "independent"}},
"encoding": {"color": {"field": "ion", "type": "nominal", "legend": null, "scale": {"domain": ["C₆H₆O₃H⁺","C₄H₄O₂H⁺","C₅H₄O₂H⁺"], "range": ["#7f00ff","#000000","#ffa500"]}}},
"layer": [
{"data": {"name": "series"}, "transform": [{"filter": "datum.p=='P9'"}], "mark": {"type": "circle", "size": 40, "opacity": 1},
 "encoding": {
  "x": {"field": "t", "type": "quantitative", "title": "Temperature (ºC)", "scale": {"domain": [70, 140], "reverse": true, "nice": false, "zero": false}, "axis": {"orient": "bottom", "values": [140,120,100,80], "labelPadding": 8, "titlePadding": 4}},
  "y": {"field": "v", "type": "quantitative", "title": null, "scale": {"domain": [0, 0.8], "nice": false}, "axis": {"values": [0,0.2,0.4,0.6,0.8], "format": ".1f"}}}},
{"data": {"name": "series"}, "transform": [{"filter": "datum.p=='P9'"}], "mark": {"type": "area", "opacity": 0.27},
 "encoding": {"x": {"field": "t", "type": "quantitative", "title": null, "axis": {"orient": "bottom", "values": [130,110,90,70], "labels": false, "domain": false}}, "y": {"field": "lo", "type": "quantitative", "title": null}, "y2": {"field": "hi"}}},
{"data": {"name": "labels"}, "transform": [{"filter": "datum.p=='P9'"}], "mark": {"type": "text", "align": "left", "baseline": "middle", "dx": 8, "fontSize": 15},
 "encoding": {"x": {"datum": 70, "type": "quantitative", "axis": null}, "y": {"field": "ly", "type": "quantitative", "title": null}, "text": {"field": "ion"}}},
{"data": {"values": [{"name": "Sucrose,C₁₂H₂₂O₁₁"}]}, "mark": {"type": "text", "align": "left", "baseline": "top", "dx": 15, "dy": 13, "fontSize": 18.5, "fontWeight": "bold", "lineBreak": "\n", "lineHeight": 22},
 "encoding": {"x": {"datum": 140, "type": "quantitative", "axis": null}, "y": {"datum": 0.8, "type": "quantitative", "title": null}, "text": {"field": "name"}, "color": {"value": "black"}}}
]
}
],
"config": {
 "view": {"stroke": "black", "strokeWidth": 1.5},
 "axis": {"grid": false, "domainColor": "black", "domainWidth": 1.5, "tickColor": "black", "tickWidth": 1.5, "tickSize": 5, "labelFont": "Liberation Sans", "labelFontSize": 18, "labelColor": "black", "labelPadding": 2, "labelOverlap": false, "titleFont": "Liberation Sans", "titleFontSize": 18, "titleFontWeight": "normal", "titleColor": "black", "titlePadding": 6},
 "axisX": {"labelFlush": false},
 "text": {"font": "Liberation Sans"}
}
}
